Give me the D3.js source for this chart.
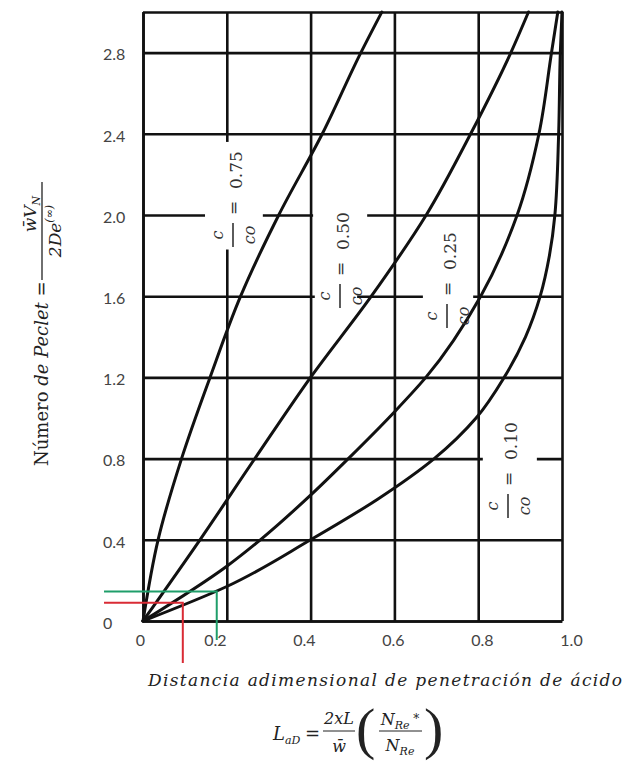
<!DOCTYPE html>
<html><head><meta charset="utf-8">
<script src="https://cdn.jsdelivr.net/npm/d3@7"></script>
<style>body{margin:0;background:#fff}</style>
</head><body>
<script>
// ---- data ----
const xTicks = [0, 0.2, 0.4, 0.6, 0.8, 1.0];
const xTickLabels = ["0", "0.2", "0.4", "0.6", "0.8", "1.0"];
const yTicks = [0, 0.4, 0.8, 1.2, 1.6, 2.0, 2.4, 2.8, 3.0];
const yTickLabels = ["0", "0.4", "0.8", "1.2", "1.6", "2.0", "2.4", "2.8", ""];
const ratioLabels = ["0.75", "0.50", "0.25", "0.10"];
const curve075 = [[0,0],[0.036,0.4],[0.092,0.8],[0.16,1.2],[0.233,1.6],[0.324,2.0],[0.428,2.4],[0.52,2.8],[0.57,3.0]];
const curve050 = [[0,0],[0.136,0.4],[0.267,0.8],[0.40,1.2],[0.545,1.6],[0.676,2.0],[0.782,2.4],[0.878,2.8],[0.92,3.0]];
const curve025 = [[0,0],[0.2,0.27],[0.28,0.4],[0.4,0.62],[0.49,0.8],[0.6,1.03],[0.675,1.2],[0.806,1.6],[0.893,2.0],[0.945,2.4],[0.975,2.8],[0.99,3.0]];
const curve010 = [[0,0],[0.2,0.17],[0.4,0.4],[0.56,0.6],[0.695,0.8],[0.795,1.0],[0.862,1.2],[0.913,1.4],[0.948,1.6],[0.97,1.8],[0.983,2.0],[0.992,2.4],[0.996,2.8],[1.0,3.0]];
const curves = [curve075, curve050, curve025, curve010];
const greenPoint = [0.176, 0.145];
const redPoint = [0.095, 0.09];

// ---- layout ----
const W = 629, H = 761;
const svg = d3.select("body").append("svg").attr("width", W).attr("height", H)
  .style("background", "#fff");
const x = d3.scaleLinear().domain([0, 1]).range([143, 562]);
const y = d3.scaleLinear().domain([0, 3]).range([621, 12]);
const xLab = d3.scaleLinear().domain([0.2, 1]).range([x(0.2) - 12, x(1) + 9]);
const pw = x(1) - x(0), ph = y(0) - y(3);
const gridW = 2.6;
const tickFont = "Lato, 'Open Sans', sans-serif";

// vertical grid + x labels
const gx = svg.append("g").attr("transform", `translate(0,${y(0)})`)
  .call(d3.axisBottom(x).tickValues(xTicks).tickSizeInner(-ph).tickSizeOuter(0).tickPadding(14)
    .tickFormat((d, i) => xTickLabels[i]));
gx.select(".domain").attr("stroke", "#111").attr("stroke-width", gridW);
gx.selectAll(".tick line").attr("stroke", "#111").attr("stroke-width", gridW);
gx.selectAll(".tick text").attr("font-family", tickFont).attr("font-size", 16).attr("fill", "#444")
  .attr("dx", d => d === 0 ? -3 : xLab(d) - x(d));

// horizontal grid + y labels
const gy = svg.append("g").attr("transform", `translate(${x(0)},0)`)
  .call(d3.axisLeft(y).tickValues(yTicks).tickSizeInner(-pw).tickSizeOuter(0).tickPadding(15)
    .tickFormat((d, i) => yTickLabels[i]));
gy.select(".domain").attr("stroke", "#111").attr("stroke-width", gridW);
gy.selectAll(".tick line").attr("stroke", "#111").attr("stroke-width", gridW);
gy.selectAll(".tick text").attr("font-family", tickFont).attr("font-size", 16).attr("fill", "#444")
  .attr("text-anchor", "start").attr("x", 103 - x(0)).attr("dy", "0.45em");

// gaps in grid lines around the curve labels
const hGaps = [[2.0, 0.148, 0.286], [2.0, 0.406, 0.535], [1.6, 0.41, 0.511], [1.6, 0.668, 0.788], [0.8, 0.811, 0.94]];
hGaps.forEach(([yv, a, b]) => svg.append("rect").attr("x", x(a)).attr("width", x(b) - x(a))
  .attr("y", y(yv) - 3).attr("height", 6).attr("fill", "#fff"));
const vGaps = [[0.2, 1.83, 2.36]];
vGaps.forEach(([xv, a, b]) => svg.append("rect").attr("x", x(xv) - 3).attr("width", 6)
  .attr("y", y(b)).attr("height", y(a) - y(b)).attr("fill", "#fff"));

// curves
const line = d3.line().x(d => x(d[0])).y(d => y(d[1])).curve(d3.curveMonotoneY);
svg.append("g").selectAll("path").data(curves).join("path")
  .attr("d", line).attr("fill", "none").attr("stroke", "#111").attr("stroke-width", 3)
  .attr("stroke-linecap", "round");

// curve labels (rotated)
const labelPos = [[242, 247], [349, 308], [456, 328], [517, 518]];
ratioLabels.forEach((v, i) => {
  const [bx, by] = labelPos[i];
  const g = svg.append("g").attr("transform", `translate(${bx},${by}) rotate(-90)`)
    .attr("font-family", "'DejaVu Serif', serif").attr("fill", "#333");
  g.append("line").attr("x1", 0).attr("x2", 24).attr("y1", -9).attr("y2", -9)
    .attr("stroke", "#333").attr("stroke-width", 1.6);
  g.append("text").attr("x", 12).attr("y", -19).attr("text-anchor", "middle")
    .attr("font-style", "italic").attr("font-size", 16).text("c");
  g.append("text").attr("x", 12).attr("y", 13).attr("text-anchor", "middle")
    .attr("font-style", "italic").attr("font-size", 16).text("co");
  g.append("text").attr("x", 32).attr("y", -3).attr("font-size", 17).text("=");
  g.append("text").attr("x", 58).attr("y", 0).attr("font-size", 17).text(v);
});

// y axis title (rotated)
const yt = svg.append("g").attr("transform", "translate(48,466) rotate(-90)")
  .attr("font-family", "'DejaVu Serif', serif").attr("fill", "#222");
const yt1 = yt.append("text").attr("x", 0).attr("y", 0).attr("font-size", 18);
yt1.append("tspan").text("Número ");
yt1.append("tspan").attr("font-style", "italic").text("de Peclet");
yt1.append("tspan").text(" =");
yt.append("line").attr("x1", 186).attr("x2", 284).attr("y1", -6).attr("y2", -6)
  .attr("stroke", "#222").attr("stroke-width", 1.3);
const num = yt.append("text").attr("x", 252).attr("y", -12).attr("text-anchor", "middle")
  .attr("font-size", 17).attr("font-style", "italic");
num.append("tspan").text("w\u0304V");
num.append("tspan").attr("font-size", 11).attr("dy", 4).text("N");
const den = yt.append("text").attr("x", 235).attr("y", 13).attr("text-anchor", "middle")
  .attr("font-size", 17).attr("font-style", "italic");
den.append("tspan").text("2De");
den.append("tspan").attr("font-size", 11).attr("dy", -8).text("(\u221E)");

// x axis title
svg.append("text").attr("x", 148).attr("y", 686).attr("font-family", "'DejaVu Serif', serif")
  .attr("font-style", "italic").attr("font-size", 17).attr("fill", "#222")
  .attr("textLength", 474).attr("lengthAdjust", "spacing")
  .text("Distancia adimensional de penetración de ácido");

// formula
const fm = svg.append("g").attr("font-family", "'DejaVu Serif', serif").attr("fill", "#222");
const L = fm.append("text").attr("x", 273).attr("y", 740).attr("font-size", 18).attr("font-style", "italic");
L.append("tspan").text("L");
L.append("tspan").attr("font-size", 11).attr("dy", 4).text("aD");
fm.append("text").attr("x", 305).attr("y", 740).attr("font-size", 18).text("=");
fm.append("text").attr("x", 339).attr("y", 724).attr("text-anchor", "middle").attr("font-size", 16)
  .attr("font-style", "italic").text("2xL");
fm.append("line").attr("x1", 323).attr("x2", 355).attr("y1", 731).attr("y2", 731).attr("stroke", "#222").attr("stroke-width", 1);
fm.append("text").attr("x", 339).attr("y", 752).attr("text-anchor", "middle").attr("font-size", 16)
  .attr("font-style", "italic").text("w\u0304");
fm.append("text").attr("x", 356).attr("y", 748).attr("font-family", "'Liberation Serif', serif")
  .attr("font-size", 58).text("(");
const n1 = fm.append("text").attr("x", 400).attr("y", 725).attr("text-anchor", "middle").attr("font-size", 16).attr("font-style", "italic");
n1.append("tspan").text("N");
n1.append("tspan").attr("font-size", 11).attr("dy", 4).text("Re");
n1.append("tspan").attr("dy", -6).attr("font-size", 12).text(" *");
fm.append("line").attr("x1", 379).attr("x2", 422).attr("y1", 731).attr("y2", 731).attr("stroke", "#222").attr("stroke-width", 1);
const d1 = fm.append("text").attr("x", 400).attr("y", 751).attr("text-anchor", "middle").attr("font-size", 16).attr("font-style", "italic");
d1.append("tspan").text("N");
d1.append("tspan").attr("font-size", 11).attr("dy", 4).text("Re");
fm.append("text").attr("x", 424).attr("y", 748).attr("font-family", "'Liberation Serif', serif")
  .attr("font-size", 58).text(")");

// red & green reading lines
const ann = svg.append("g").attr("fill", "none").attr("stroke-width", 2);
ann.append("path").attr("stroke", "#1f9e6a")
  .attr("d", `M${x(-0.093)},${y(greenPoint[1])}H${x(greenPoint[0])}V${y(-0.094)}`);
ann.append("path").attr("stroke", "#d92b35")
  .attr("d", `M${x(-0.093)},${y(redPoint[1])}H${x(redPoint[0])}V${y(-0.207)}`);
</script>
</body></html>
